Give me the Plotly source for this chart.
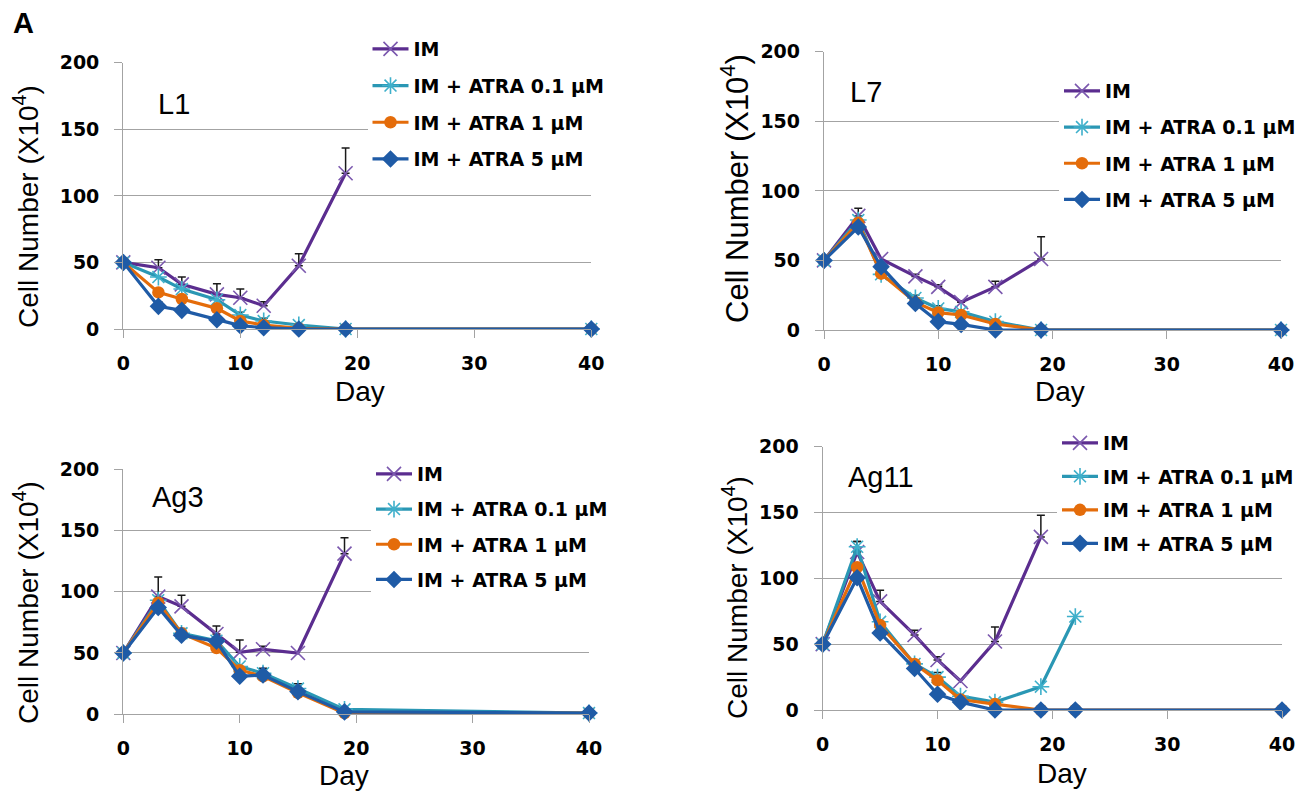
import plotly.graph_objects as go

W, H = 1304, 793
PAGE_OFFSET = 8  # browser default body margin
FW, FH = W - PAGE_OFFSET, H - PAGE_OFFSET

# ---------------- data ----------------
DAYS = [0, 3, 5, 8, 10, 12, 15, 19, 40]
DAYS_IM = [0, 3, 5, 8, 10, 12, 15, 19]
DAYS_AG11 = [0, 3, 5, 8, 10, 12, 15, 19, 22, 40]
DAYS_AG11_01 = [0, 3, 5, 8, 10, 12, 15, 19, 22]

SERIES_NAMES = ["IM", "IM + ATRA 0.1 µM", "IM + ATRA 1 µM", "IM + ATRA 5 µM"]
PANEL_LABELS = ["L1", "L7", "Ag3", "Ag11"]
X_TICKS = [0, 10, 20, 30, 40]
Y_TICKS = [0, 50, 100, 150, 200]

# L1
L1_IM = [50, 46, 33.5, 26, 23.5, 17.5, 47.5, 117]
L1_IM_ERR = [0, 6, 5.5, 8, 6.5, 3, 9, 19]
L1_A01 = [50, 39, 30, 22, 10.5, 6, 3, 0, 0]
L1_A01_ERR = [0, 0, 0, 0, 2, 2, 0, 0, 0]
L1_A1 = [50, 27.5, 22.5, 15.5, 6, 3, 0.5, 0, 0]
L1_A1_ERR = [0, 0, 0, 0, 0, 0, 0, 0, 0]
L1_A5 = [50, 17, 14, 7, 2.5, 1, 0, 0, 0]
L1_A5_ERR = [0, 3.5, 0, 0, 0, 0, 0, 0, 0]

# L7
L7_IM = [50, 82, 51, 38.5, 31, 20, 31, 51]
L7_IM_ERR = [0, 5.5, 0, 1.5, 1.5, 1, 4, 16]
L7_A01 = [50, 79, 40, 23, 15.5, 13, 6, 0, 0]
L7_A01_ERR = [0, 0, 0, 2, 2, 0, 0, 0, 0]
L7_A1 = [50, 77, 40.5, 20, 12.5, 10.8, 4.3, 0, 0]
L7_A1_ERR = [0, 0, 0, 3, 0, 0, 0, 0, 0]
L7_A5 = [50, 74, 45.5, 19, 6, 4, 0, 0, 0]
L7_A5_ERR = [0, 0, 0, 0, 0, 0, 0, 0, 0]

# Ag3
AG3_IM = [50, 96, 88, 65.5, 50.5, 53, 50, 131]
AG3_IM_ERR = [0, 16, 9, 6.5, 10, 2.5, 0, 13]
AG3_A01 = [50, 93, 66, 60, 39, 33.5, 21, 4, 1]
AG3_A01_ERR = [0, 0, 4, 0, 0, 4, 4, 0, 0]
AG3_A1 = [50, 91, 66, 54, 36, 31, 17.5, 1, 1]
AG3_A1_ERR = [0, 0, 0, 0, 0, 0, 0, 0, 0]
AG3_A5 = [50, 87, 64.5, 59.5, 31, 32, 18.5, 2, 1]
AG3_A5_ERR = [0, 0, 0, 0, 0, 0, 0, 0, 0]

# Ag11
AG11_IM = [50, 120, 82.5, 57, 38, 22, 52, 131.5]
AG11_IM_ERR = [0, 8, 8.5, 3.5, 2.5, 0, 11, 16.5]
AG11_A01 = [50, 124, 67, 35, 25, 10.5, 6, 17.7, 71]
AG11_A01_ERR = [0, 4, 0, 0, 0, 0, 0, 0, 0]
AG11_A1 = [50, 108.5, 64.5, 35, 22.5, 8, 4.5, 0, 0, 0]
AG11_A1_ERR = [0, 0, 0, 0, 6, 0, 0, 0, 0, 0]
AG11_A5 = [50, 100.5, 58.5, 31.5, 12, 6, 0, 0, 0, 0]
AG11_A5_ERR = [0, 0, 0, 0, 0, 0, 0, 0, 0, 0]

# ---------------- styles ----------------
COLORS = ["#5B2D8F", "#2A97B4", "#E46C0A", "#1F5BA6"]
MARKERS = [
    dict(symbol="x-thin-open", size=14, color="#7B58AE", line=dict(width=1.6)),
    dict(symbol="asterisk-open", size=14, color="#3FB0CB", line=dict(width=1.6)),
    dict(symbol="circle", size=12.5, color="#E46C0A", line=dict(width=0)),
    dict(symbol="diamond", size=13.5, color="#1F5BA6", line=dict(width=0)),
]


def px_x(p):
    return (p - PAGE_OFFSET) / FW


def px_y(p):
    return 1 - (p - PAGE_OFFSET) / FH


# panel geometry in page pixels: x at day 0, x at day 40, y at 0, y at 200
PANELS = [
    dict(x0=123.3, x1=591.3, yb=329.0, yt=62.7),
    dict(x0=824.0, x1=1281.0, yb=330.0, yt=51.7),
    dict(x0=123.3, x1=589.0, yb=714.3, yt=469.0),
    dict(x0=822.7, x1=1282.0, yb=710.0, yt=446.7),
]

panel_data = [
    [(DAYS_IM, L1_IM, L1_IM_ERR), (DAYS, L1_A01, L1_A01_ERR), (DAYS, L1_A1, L1_A1_ERR), (DAYS, L1_A5, L1_A5_ERR)],
    [(DAYS_IM, L7_IM, L7_IM_ERR), (DAYS, L7_A01, L7_A01_ERR), (DAYS, L7_A1, L7_A1_ERR), (DAYS, L7_A5, L7_A5_ERR)],
    [(DAYS_IM, AG3_IM, AG3_IM_ERR), (DAYS, AG3_A01, AG3_A01_ERR), (DAYS, AG3_A1, AG3_A1_ERR), (DAYS, AG3_A5, AG3_A5_ERR)],
    [(DAYS_IM, AG11_IM, AG11_IM_ERR), (DAYS_AG11_01, AG11_A01, AG11_A01_ERR), (DAYS_AG11, AG11_A1, AG11_A1_ERR), (DAYS_AG11, AG11_A5, AG11_A5_ERR)],
]

# legend placement: left edge (px), top (px), group gap
LEGENDS = [
    dict(x=367.5, y=30, gap=9),
    dict(x=1059, y=72, gap=8.5),
    dict(x=371, y=455, gap=7.5),
    dict(x=1057, y=424, gap=5.8),
]

fig = go.Figure()
tick_font = dict(family="DejaVu Sans", size=19, color="black", weight="bold")
legend_font = dict(family="DejaVu Sans", size=19, color="black", weight="bold")
axis_grey = "#A3A3A3"

for p, (geo, series, leg) in enumerate(zip(PANELS, panel_data, LEGENDS)):
    sfx = "" if p == 0 else str(p + 1)
    xa, ya = "x" + sfx, "y" + sfx
    legname = "legend" + sfx
    # error bars (drawn underneath)
    for s, (xs, ys, es) in enumerate(series):
        ex = [x for x, e in zip(xs, es) if e > 0]
        ey = [y for y, e in zip(ys, es) if e > 0]
        ee = [e for e in es if e > 0]
        if ex:
            fig.add_trace(go.Scatter(
                x=ex, y=ey, mode="markers", xaxis=xa, yaxis=ya,
                marker=dict(size=1, opacity=0), showlegend=False, hoverinfo="skip",
                error_y=dict(type="data", symmetric=False, array=ee, arrayminus=[0] * len(ee),
                             color="#1A1A1A", thickness=1.5, width=4),
                cliponaxis=False,
            ))
    for s, (xs, ys, es) in enumerate(series):
        fig.add_trace(go.Scatter(
            x=xs, y=ys, mode="lines+markers", name=SERIES_NAMES[s],
            xaxis=xa, yaxis=ya, legend=legname, legendgroup=f"p{p}s{s}",
            line=dict(color=COLORS[s], width=3.2),
            marker=MARKERS[s], cliponaxis=False,
        ))

    fig.update_layout(**{
        "xaxis" + sfx: dict(
            domain=[px_x(geo["x0"]), px_x(geo["x1"])], range=[0, 40], anchor=ya,
            tickvals=X_TICKS, showgrid=False, zeroline=False,
            showline=True, linecolor=axis_grey, linewidth=1.3,
            ticks="outside", ticklen=8, tickwidth=1.3, tickcolor=axis_grey,
            tickfont=tick_font, ticklabelstandoff=9,
        ),
        "yaxis" + sfx: dict(
            domain=[px_y(geo["yb"]), px_y(geo["yt"])], range=[0, 200], anchor=xa,
            tickvals=Y_TICKS, showgrid=True, gridcolor=axis_grey, gridwidth=1.3,
            zeroline=False, showline=True, linecolor=axis_grey, linewidth=1.3,
            ticks="outside", ticklen=8, tickwidth=1.3, tickcolor=axis_grey,
            tickfont=tick_font, ticklabelstandoff=11,
        ),
        legname: dict(
            x=px_x(leg["x"]), y=px_y(leg["y"]), xanchor="left", yanchor="top",
            bgcolor="white", borderwidth=0, traceorder="grouped",
            tracegroupgap=leg["gap"], itemwidth=36,
            font=legend_font,
        ),
    })

annotations = []
# panel labels
LABEL_POS = [(174, 104), (866, 92), (178, 497), (881, 477)]
for lab, (ax_, ay_) in zip(PANEL_LABELS, LABEL_POS):
    annotations.append(dict(text=lab, x=px_x(ax_), y=px_y(ay_), xref="paper", yref="paper",
                            showarrow=False, font=dict(family="Arial", size=29, color="black"),
                            xanchor="center", yanchor="middle"))
# y titles
YT_POS = [(26, 207, 28), (735, 189, 31), (26, 603, 28), (735, 598, 28)]
for (tx, ty, fs) in YT_POS:
    annotations.append(dict(text="Cell Number (X10<sup>4</sup>)", x=px_x(tx), y=px_y(ty),
                            xref="paper", yref="paper", showarrow=False, textangle=-90,
                            font=dict(family="Arial", size=fs, color="black"),
                            xanchor="center", yanchor="middle"))
# x titles
XT_POS = [(360, 391), (1060, 391), (344, 775), (1062, 773)]
for (tx, ty) in XT_POS:
    annotations.append(dict(text="Day", x=px_x(tx), y=px_y(ty), xref="paper", yref="paper",
                            showarrow=False, font=dict(family="Arial", size=28, color="black"),
                            xanchor="center", yanchor="middle"))
annotations.append(dict(text="<b>A</b>", x=px_x(23), y=px_y(23), xref="paper", yref="paper",
                        showarrow=False, font=dict(family="Arial", size=29, color="black"),
                        xanchor="center", yanchor="middle"))

fig.update_layout(
    width=FW, height=FH, margin=dict(l=0, r=0, t=0, b=0, autoexpand=False),
    paper_bgcolor="white", plot_bgcolor="white",
    annotations=annotations,
)

fig.write_html("out.html")
